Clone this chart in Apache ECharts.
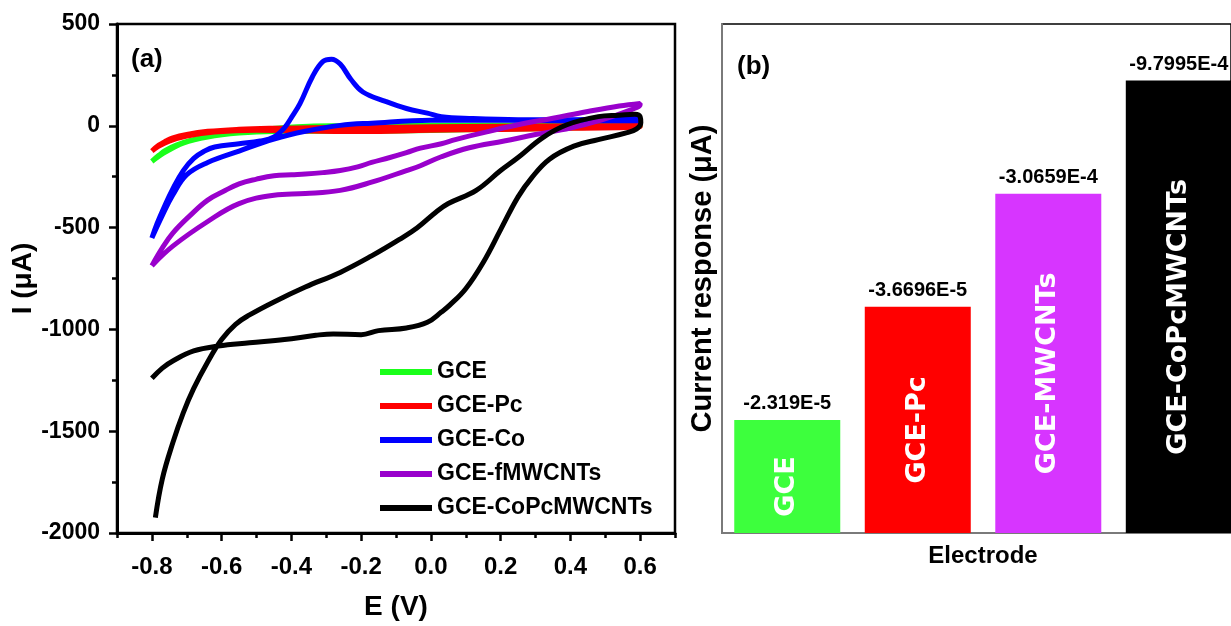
<!DOCTYPE html>
<html><head><meta charset="utf-8">
<script src="https://cdn.jsdelivr.net/npm/echarts@6/dist/echarts.min.js"></script>
<style>html,body{margin:0;padding:0;background:#fff}#c{width:1231px;height:626px}</style>
</head><body><div id="c"></div>
<script>
// ---------- Panel (a): cyclic voltammograms, [E (V), I (uA)] ----------
const seriesNames = ['GCE', 'GCE-Pc', 'GCE-Co', 'GCE-fMWCNTs', 'GCE-CoPcMWCNTs'];

const gceCurve = [[-0.80,-175],[-0.78,-145],[-0.76,-120],[-0.73,-95],[-0.69,-72],[-0.64,-52],[-0.58,-35],[-0.50,-20],[-0.42,-8],[-0.35,-2],[-0.25,0],[-0.10,2],[0.10,3],[0.30,4],[0.45,5],[0.60,6],
  [0.60,-2],[0.45,-8],[0.30,-14],[0.10,-20],[-0.10,-25],[-0.30,-27],[-0.45,-28],[-0.55,-36],[-0.64,-55],[-0.71,-85],[-0.76,-128],[-0.80,-175]];

const gcePcCurve = [[-0.80,-124],[-0.78,-95],[-0.76,-75],[-0.74,-59],[-0.70,-42],[-0.64,-27],[-0.55,-17],[-0.45,-12],[-0.35,-10],[-0.20,-8],[0.00,-5],[0.20,-2],[0.40,0],[0.60,2],
  [0.60,-5],[0.40,-12],[0.20,-18],[0.00,-22],[-0.20,-28],[-0.35,-26],[-0.50,-22],[-0.62,-30],[-0.70,-50],[-0.75,-75],[-0.78,-100],[-0.80,-124]];

const gceCoCurve = [[-0.80,-551],[-0.785,-480],[-0.765,-400],[-0.74,-310],[-0.71,-220],[-0.68,-160],[-0.65,-125],[-0.62,-104],[-0.55,-88],[-0.49,-75],[-0.45,-55],[-0.42,-10],[-0.40,40],[-0.375,110],[-0.34,240],[-0.31,315],[-0.285,327],[-0.26,303],[-0.23,230],[-0.195,166],[-0.13,120],[-0.07,85],[-0.01,62],[0.03,45],[0.11,36],[0.25,30],[0.40,30],[0.54,33],[0.60,37],
  [0.60,25],[0.45,25],[0.30,26],[0.15,27],[0.00,27],[-0.17,13],[-0.26,2],[-0.36,-27],[-0.45,-65],[-0.55,-124],[-0.64,-180],[-0.70,-240],[-0.74,-340],[-0.77,-440],[-0.80,-551]];

const gceFMwcntCurve = [[-0.80,-687],[-0.77,-600],[-0.74,-527],[-0.69,-440],[-0.64,-365],[-0.59,-318],[-0.55,-285],[-0.50,-262],[-0.45,-245],[-0.40,-240],[-0.36,-237],[-0.31,-230],[-0.26,-220],[-0.21,-202],[-0.17,-180],[-0.12,-157],[-0.07,-132],[-0.03,-110],[0.03,-88],[0.07,-68],[0.16,-30],[0.25,5],[0.35,37],[0.45,70],[0.54,97],[0.60,110],
  [0.60,105],[0.56,70],[0.49,29],[0.40,-11],[0.30,-43],[0.21,-75],[0.11,-108],[0.03,-152],[-0.03,-196],[-0.07,-220],[-0.17,-277],[-0.26,-317],[-0.36,-333],[-0.45,-341],[-0.55,-382],[-0.64,-470],[-0.74,-591],[-0.80,-687]];

const gceCoPcMwcntCurve = [[-0.80,-1240],[-0.77,-1190],[-0.74,-1155],[-0.68,-1106],[-0.61,-1082],[-0.52,-1066],[-0.42,-1050],[-0.33,-1029],[-0.28,-1022],[-0.20,-1026],[-0.15,-1006],[-0.07,-993],[-0.01,-965],[0.03,-915],[0.054,-881],[0.10,-800],[0.15,-671],[0.20,-510],[0.25,-349],[0.29,-253],[0.34,-164],[0.41,-100],[0.48,-68],[0.56,-35],[0.59,-15],[0.602,15],[0.60,45],[0.585,57],[0.54,52],[0.48,45],[0.39,5],[0.32,-59],[0.25,-156],[0.20,-220],[0.13,-317],[0.05,-382],[0.016,-422],[-0.04,-502],[-0.09,-558],[-0.17,-639],[-0.26,-720],[-0.36,-792],[-0.45,-865],[-0.52,-929],[-0.56,-975],[-0.60,-1050],[-0.64,-1160],[-0.68,-1290],[-0.71,-1410],[-0.74,-1557],[-0.77,-1734],[-0.79,-1925]];

const xTickValues = [-0.8,-0.6,-0.4,-0.2,0.0,0.2,0.4,0.6];
const xMinorTickValues = [-0.9,-0.7,-0.5,-0.3,-0.1,0.1,0.3,0.5,0.7];

// ---------- Panel (b): bar chart ----------
const barCategories = ['GCE', 'GCE-Pc', 'GCE-MWCNTs', 'GCE-CoPcMWCNTs'];
const barHeights = [1, 2, 3, 4];
const barValueLabels = ['-2.319E-5', '-3.6696E-5', '-3.0659E-4', '-9.7995E-4'];

// styles
const lineColors = ['#1aff1a', '#ff0000', '#0000ff', '#9900cc', '#000000'];
const barColors = ['#3dff3d', '#ff0000', '#d735ff', '#000000'];
const FONT = '"Liberation Sans", Arial, sans-serif';

const curves = [gceCurve, gcePcCurve, gceCoCurve, gceFMwcntCurve, gceCoPcMwcntCurve];
const barData = barHeights.map((v, i) => ({ value: [i, v], itemStyle: { color: barColors[i] } }));

const chart = echarts.init(document.getElementById('c'));
chart.setOption({
  animation: false,
  backgroundColor: '#fff',
  textStyle: { fontFamily: FONT },
  title: [
    { text: '(a)', left: 131, top: 47, padding: 0, textStyle: { fontSize: 26, fontWeight: 'bold', color: '#000', fontFamily: FONT } },
    { text: '(b)', left: 737, top: 54, padding: 0, textStyle: { fontSize: 26, fontWeight: 'bold', color: '#000', fontFamily: FONT } }
  ],
  legend: {
    data: seriesNames, orient: 'vertical', left: 380, top: 360, padding: 0,
    icon: 'rect', itemWidth: 52, itemHeight: 6, itemGap: 10,
    textStyle: { fontSize: 23, fontWeight: 'bold', color: '#000', fontFamily: FONT, lineHeight: 24 }
  },
  grid: [
    { left: 117, top: 24, width: 558, height: 517, show: true, borderColor: '#000', borderWidth: 2.5 },
    { left: 722, top: 24, right: 0, height: 509, show: true, borderColor: '#000', borderWidth: 1.5 }
  ],
  xAxis: [
    {
      gridIndex: 0, type: 'value', min: -0.9, max: 0.7,
      name: 'E (V)', nameLocation: 'middle', nameGap: 60,
      nameTextStyle: { fontSize: 28, fontWeight: 'bold', color: '#000', fontFamily: FONT },
      axisLine: { show: true, onZero: false, lineStyle: { color: '#000', width: 3 } },
      axisTick: { show: true, customValues: xTickValues, length: 8, lineStyle: { color: '#000', width: 2.5 } },
      axisLabel: { customValues: xTickValues, formatter: v => v.toFixed(1), margin: 22, fontSize: 24, fontWeight: 'bold', color: '#000', fontFamily: FONT },
      splitLine: { show: false }
    },
    {
      gridIndex: 0, type: 'value', min: -0.9, max: 0.7, position: 'bottom',
      axisLine: { show: false, onZero: false },
      axisTick: { show: true, customValues: xMinorTickValues, length: 5, lineStyle: { color: '#000', width: 2.5 } },
      axisLabel: { show: false },
      splitLine: { show: false }
    },
    {
      gridIndex: 1, type: 'value', min: -0.5, max: 3.4,
      name: 'Electrode', nameLocation: 'middle', nameGap: 11,
      nameTextStyle: { fontSize: 24, fontWeight: 'bold', color: '#000', fontFamily: FONT, padding: [0, 0, 0, 13] },
      axisLine: { show: true, onZero: false, lineStyle: { color: '#7a7a7a', width: 2 } },
      axisTick: { show: false }, axisLabel: { show: false }, splitLine: { show: false }
    }
  ],
  yAxis: [
    {
      gridIndex: 0, type: 'value', min: -2000, max: 500, interval: 500,
      name: 'I (μA)', nameLocation: 'middle', nameGap: 69,
      nameTextStyle: { fontSize: 28, fontWeight: 'bold', color: '#000', fontFamily: FONT },
      axisLine: { show: true, onZero: false, lineStyle: { color: '#000', width: 3 } },
      axisTick: { show: true, length: 8, lineStyle: { color: '#000', width: 2.5 } },
      minorTick: { show: true, splitNumber: 2, length: 5, lineStyle: { color: '#000', width: 2.5 } },
      axisLabel: { margin: 17, fontSize: 23, fontWeight: 'bold', color: '#000', fontFamily: FONT, formatter: v => String(v) },
      splitLine: { show: false }, minorSplitLine: { show: false }
    },
    {
      gridIndex: 1, type: 'value', min: 0, max: 4.5,
      name: 'Current response (μA)', nameLocation: 'middle', nameGap: 5,
      nameTextStyle: { fontSize: 29, fontWeight: 'bold', color: '#000', fontFamily: FONT },
      axisLine: { show: true, onZero: false, lineStyle: { color: '#7a7a7a', width: 2 } },
      axisTick: { show: false }, axisLabel: { show: false }, splitLine: { show: false }
    }
  ],
  series: [
    ...curves.map((c, i) => ({
      name: seriesNames[i], type: 'line', xAxisIndex: 0, yAxisIndex: 0,
      data: c, showSymbol: false, smooth: 0.4,
      lineStyle: { color: lineColors[i], width: 5 }, itemStyle: { color: lineColors[i] }
    })),
    {
      type: 'bar', xAxisIndex: 2, yAxisIndex: 1, barWidth: 106, barGap: '-100%',
      data: barData,
      label: {
        show: true, position: 'inside', rotate: 90, offset: [-10, 0],
        formatter: p => barCategories[p.dataIndex],
        color: '#fff', fontSize: 27, fontWeight: 'bold', fontFamily: '"DejaVu Sans", sans-serif'
      }
    },
    {
      type: 'bar', xAxisIndex: 2, yAxisIndex: 1, barWidth: 106, barGap: '-100%', silent: true,
      data: barHeights.map((v, i) => [i, v]), itemStyle: { color: 'rgba(0,0,0,0)' },
      label: {
        show: true, position: 'top', distance: 6,
        formatter: p => barValueLabels[p.dataIndex],
        color: '#000', fontSize: 20, fontWeight: 'bold', fontFamily: FONT
      }
    }
  ]
});
</script></body></html>
